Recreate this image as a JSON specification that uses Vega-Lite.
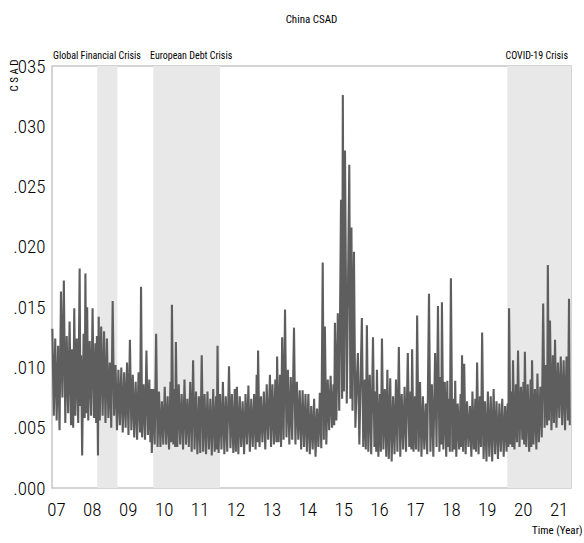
{
  "$schema": "https://vega.github.io/schema/vega-lite/v6.json",
  "width": 519,
  "height": 422,
  "autosize": {"type": "none"},
  "padding": {"left": 52, "top": 66, "right": 13, "bottom": 55},
  "background": "white",
  "title": {"text": "China CSAD", "fontSize": 11, "fontWeight": "normal", "color": "#000000", "anchor": "middle", "baseline": "alphabetic", "offset": 17},
  "resolve": {"axis": {"x": "independent", "y": "independent"}},
  "datasets": {
    "crisis": [
      {"start": 2008.15, "end": 2008.71, "name": "Global Financial Crisis", "label_t": 2006.92, "side": "left"},
      {"start": 2009.71, "end": 2011.57, "name": "European Debt Crisis", "label_t": 2009.62, "side": "left"},
      {"start": 2019.57, "end": 2021.345, "name": "COVID-19 Crisis", "label_t": 2021.26, "side": "right"}
    ],
    "csad": [
      {"t":2006.90,"v":0.0132},{"t":2006.94,"v":0.0060},{"t":2006.98,"v":0.0124},
      {"t":2007.02,"v":0.0056},{"t":2007.06,"v":0.0118},{"t":2007.10,"v":0.0048},{"t":2007.14,"v":0.0163},{"t":2007.18,"v":0.0075},{"t":2007.22,"v":0.0172},{"t":2007.26,"v":0.0054},{"t":2007.30,"v":0.0126},{"t":2007.34,"v":0.0062},{"t":2007.38,"v":0.0138},{"t":2007.42,"v":0.0052},{"t":2007.45,"v":0.0115},{"t":2007.48,"v":0.0050},{"t":2007.51,"v":0.0149},{"t":2007.54,"v":0.0060},{"t":2007.58,"v":0.0124},{"t":2007.62,"v":0.0054},{"t":2007.66,"v":0.0182},{"t":2007.68,"v":0.0068},{"t":2007.70,"v":0.0110},{"t":2007.73,"v":0.0027},{"t":2007.77,"v":0.0128},{"t":2007.80,"v":0.0058},{"t":2007.82,"v":0.0178},{"t":2007.85,"v":0.0062},{"t":2007.87,"v":0.0150},{"t":2007.90,"v":0.0056},{"t":2007.94,"v":0.0122},{"t":2007.98,"v":0.0060},
      {"t":2008.02,"v":0.0149},{"t":2008.06,"v":0.0058},{"t":2008.10,"v":0.0120},{"t":2008.12,"v":0.0054},{"t":2008.14,"v":0.0126},{"t":2008.17,"v":0.0027},{"t":2008.19,"v":0.0142},{"t":2008.22,"v":0.0056},{"t":2008.26,"v":0.0134},{"t":2008.30,"v":0.0060},{"t":2008.34,"v":0.0130},{"t":2008.38,"v":0.0054},{"t":2008.42,"v":0.0124},{"t":2008.46,"v":0.0058},{"t":2008.50,"v":0.0104},{"t":2008.54,"v":0.0050},{"t":2008.58,"v":0.0155},{"t":2008.62,"v":0.0060},{"t":2008.66,"v":0.0102},{"t":2008.70,"v":0.0048},{"t":2008.74,"v":0.0098},{"t":2008.78,"v":0.0052},{"t":2008.82,"v":0.0100},{"t":2008.86,"v":0.0046},{"t":2008.90,"v":0.0096},{"t":2008.94,"v":0.0050},{"t":2008.98,"v":0.0104},
      {"t":2009.02,"v":0.0044},{"t":2009.06,"v":0.0123},{"t":2009.10,"v":0.0048},{"t":2009.14,"v":0.0094},{"t":2009.18,"v":0.0042},{"t":2009.22,"v":0.0088},{"t":2009.26,"v":0.0040},{"t":2009.30,"v":0.0096},{"t":2009.34,"v":0.0046},{"t":2009.37,"v":0.0167},{"t":2009.40,"v":0.0042},{"t":2009.44,"v":0.0086},{"t":2009.48,"v":0.0040},{"t":2009.52,"v":0.0114},{"t":2009.56,"v":0.0044},{"t":2009.60,"v":0.0090},{"t":2009.63,"v":0.0038},{"t":2009.65,"v":0.0082},{"t":2009.67,"v":0.0029},{"t":2009.71,"v":0.0082},{"t":2009.75,"v":0.0036},{"t":2009.79,"v":0.0128},{"t":2009.83,"v":0.0034},{"t":2009.87,"v":0.0080},{"t":2009.91,"v":0.0034},{"t":2009.95,"v":0.0072},{"t":2009.99,"v":0.0036},
      {"t":2010.03,"v":0.0084},{"t":2010.07,"v":0.0036},{"t":2010.11,"v":0.0076},{"t":2010.15,"v":0.0032},{"t":2010.19,"v":0.0088},{"t":2010.21,"v":0.0038},{"t":2010.23,"v":0.0152},{"t":2010.27,"v":0.0036},{"t":2010.30,"v":0.0082},{"t":2010.32,"v":0.0034},{"t":2010.34,"v":0.0121},{"t":2010.38,"v":0.0034},{"t":2010.42,"v":0.0086},{"t":2010.46,"v":0.0036},{"t":2010.50,"v":0.0078},{"t":2010.54,"v":0.0032},{"t":2010.58,"v":0.0090},{"t":2010.62,"v":0.0036},{"t":2010.66,"v":0.0074},{"t":2010.70,"v":0.0034},{"t":2010.74,"v":0.0088},{"t":2010.78,"v":0.0030},{"t":2010.82,"v":0.0106},{"t":2010.86,"v":0.0032},{"t":2010.90,"v":0.0080},{"t":2010.94,"v":0.0028},{"t":2010.98,"v":0.0076},
      {"t":2011.02,"v":0.0029},{"t":2011.06,"v":0.0110},{"t":2011.10,"v":0.0030},{"t":2011.14,"v":0.0078},{"t":2011.18,"v":0.0028},{"t":2011.22,"v":0.0080},{"t":2011.26,"v":0.0032},{"t":2011.30,"v":0.0074},{"t":2011.34,"v":0.0027},{"t":2011.38,"v":0.0082},{"t":2011.42,"v":0.0030},{"t":2011.46,"v":0.0076},{"t":2011.48,"v":0.0032},{"t":2011.50,"v":0.0118},{"t":2011.53,"v":0.0029},{"t":2011.57,"v":0.0078},{"t":2011.61,"v":0.0032},{"t":2011.65,"v":0.0088},{"t":2011.69,"v":0.0028},{"t":2011.73,"v":0.0076},{"t":2011.77,"v":0.0030},{"t":2011.82,"v":0.0101},{"t":2011.86,"v":0.0033},{"t":2011.90,"v":0.0078},{"t":2011.94,"v":0.0029},{"t":2011.98,"v":0.0082},
      {"t":2012.01,"v":0.0030},{"t":2012.04,"v":0.0084},{"t":2012.08,"v":0.0028},{"t":2012.12,"v":0.0076},{"t":2012.16,"v":0.0034},{"t":2012.20,"v":0.0072},{"t":2012.24,"v":0.0028},{"t":2012.28,"v":0.0078},{"t":2012.32,"v":0.0036},{"t":2012.36,"v":0.0085},{"t":2012.40,"v":0.0030},{"t":2012.44,"v":0.0074},{"t":2012.48,"v":0.0034},{"t":2012.52,"v":0.0078},{"t":2012.56,"v":0.0032},{"t":2012.59,"v":0.0094},{"t":2012.61,"v":0.0038},{"t":2012.63,"v":0.0114},{"t":2012.67,"v":0.0034},{"t":2012.71,"v":0.0076},{"t":2012.75,"v":0.0038},{"t":2012.79,"v":0.0080},{"t":2012.83,"v":0.0032},{"t":2012.87,"v":0.0086},{"t":2012.91,"v":0.0040},{"t":2012.96,"v":0.0094},{"t":2012.99,"v":0.0034},
      {"t":2013.03,"v":0.0086},{"t":2013.07,"v":0.0036},{"t":2013.11,"v":0.0090},{"t":2013.14,"v":0.0038},{"t":2013.16,"v":0.0109},{"t":2013.20,"v":0.0038},{"t":2013.24,"v":0.0094},{"t":2013.27,"v":0.0034},{"t":2013.30,"v":0.0125},{"t":2013.34,"v":0.0040},{"t":2013.38,"v":0.0148},{"t":2013.42,"v":0.0042},{"t":2013.46,"v":0.0098},{"t":2013.50,"v":0.0036},{"t":2013.54,"v":0.0092},{"t":2013.58,"v":0.0040},{"t":2013.63,"v":0.0133},{"t":2013.67,"v":0.0036},{"t":2013.71,"v":0.0088},{"t":2013.75,"v":0.0040},{"t":2013.79,"v":0.0081},{"t":2013.83,"v":0.0032},{"t":2013.87,"v":0.0081},{"t":2013.91,"v":0.0034},{"t":2013.95,"v":0.0078},{"t":2013.99,"v":0.0030},
      {"t":2014.03,"v":0.0078},{"t":2014.07,"v":0.0028},{"t":2014.11,"v":0.0068},{"t":2014.15,"v":0.0032},{"t":2014.19,"v":0.0074},{"t":2014.23,"v":0.0026},{"t":2014.27,"v":0.0066},{"t":2014.31,"v":0.0034},{"t":2014.35,"v":0.0079},{"t":2014.39,"v":0.0033},{"t":2014.43,"v":0.0187},{"t":2014.46,"v":0.0040},{"t":2014.49,"v":0.0134},{"t":2014.53,"v":0.0036},{"t":2014.57,"v":0.0090},{"t":2014.61,"v":0.0048},{"t":2014.65,"v":0.0093},{"t":2014.69,"v":0.0050},{"t":2014.73,"v":0.0086},{"t":2014.75,"v":0.0052},{"t":2014.77,"v":0.0137},{"t":2014.81,"v":0.0056},{"t":2014.85,"v":0.0145},{"t":2014.89,"v":0.0064},{"t":2014.94,"v":0.0239},{"t":2014.97,"v":0.0074},{"t":2014.99,"v":0.0326},
      {"t":2015.02,"v":0.0080},{"t":2015.05,"v":0.0280},{"t":2015.10,"v":0.0070},{"t":2015.17,"v":0.0268},{"t":2015.20,"v":0.0074},{"t":2015.23,"v":0.0216},{"t":2015.26,"v":0.0064},{"t":2015.30,"v":0.0196},{"t":2015.34,"v":0.0050},{"t":2015.38,"v":0.0090},{"t":2015.41,"v":0.0112},{"t":2015.45,"v":0.0036},{"t":2015.49,"v":0.0096},{"t":2015.52,"v":0.0141},{"t":2015.56,"v":0.0034},{"t":2015.60,"v":0.0090},{"t":2015.63,"v":0.0032},{"t":2015.66,"v":0.0135},{"t":2015.70,"v":0.0030},{"t":2015.74,"v":0.0094},{"t":2015.78,"v":0.0028},{"t":2015.83,"v":0.0125},{"t":2015.87,"v":0.0034},{"t":2015.90,"v":0.0080},{"t":2015.92,"v":0.0030},{"t":2015.94,"v":0.0098},{"t":2015.98,"v":0.0026},
      {"t":2016.02,"v":0.0078},{"t":2016.05,"v":0.0030},{"t":2016.08,"v":0.0124},{"t":2016.12,"v":0.0032},{"t":2016.16,"v":0.0082},{"t":2016.20,"v":0.0026},{"t":2016.23,"v":0.0098},{"t":2016.27,"v":0.0024},{"t":2016.31,"v":0.0091},{"t":2016.35,"v":0.0022},{"t":2016.39,"v":0.0076},{"t":2016.43,"v":0.0028},{"t":2016.47,"v":0.0090},{"t":2016.51,"v":0.0030},{"t":2016.55,"v":0.0117},{"t":2016.59,"v":0.0026},{"t":2016.63,"v":0.0078},{"t":2016.67,"v":0.0032},{"t":2016.71,"v":0.0084},{"t":2016.75,"v":0.0030},{"t":2016.80,"v":0.0112},{"t":2016.84,"v":0.0034},{"t":2016.88,"v":0.0080},{"t":2016.90,"v":0.0032},{"t":2016.92,"v":0.0115},{"t":2016.96,"v":0.0030},
      {"t":2017.00,"v":0.0076},{"t":2017.03,"v":0.0032},{"t":2017.06,"v":0.0143},{"t":2017.10,"v":0.0030},{"t":2017.14,"v":0.0088},{"t":2017.18,"v":0.0026},{"t":2017.22,"v":0.0076},{"t":2017.26,"v":0.0032},{"t":2017.30,"v":0.0070},{"t":2017.34,"v":0.0028},{"t":2017.39,"v":0.0161},{"t":2017.43,"v":0.0030},{"t":2017.47,"v":0.0086},{"t":2017.51,"v":0.0026},{"t":2017.56,"v":0.0112},{"t":2017.60,"v":0.0034},{"t":2017.64,"v":0.0151},{"t":2017.68,"v":0.0030},{"t":2017.71,"v":0.0092},{"t":2017.73,"v":0.0036},{"t":2017.75,"v":0.0154},{"t":2017.79,"v":0.0032},{"t":2017.83,"v":0.0088},{"t":2017.87,"v":0.0026},{"t":2017.90,"v":0.0089},{"t":2017.92,"v":0.0034},{"t":2017.95,"v":0.0074},{"t":2017.97,"v":0.0030},
      {"t":2018.00,"v":0.0174},{"t":2018.04,"v":0.0030},{"t":2018.08,"v":0.0074},{"t":2018.10,"v":0.0032},{"t":2018.12,"v":0.0089},{"t":2018.15,"v":0.0026},{"t":2018.19,"v":0.0070},{"t":2018.23,"v":0.0032},{"t":2018.27,"v":0.0078},{"t":2018.29,"v":0.0034},{"t":2018.31,"v":0.0110},{"t":2018.34,"v":0.0030},{"t":2018.37,"v":0.0103},{"t":2018.41,"v":0.0028},{"t":2018.45,"v":0.0072},{"t":2018.49,"v":0.0034},{"t":2018.53,"v":0.0068},{"t":2018.57,"v":0.0026},{"t":2018.60,"v":0.0080},{"t":2018.64,"v":0.0032},{"t":2018.68,"v":0.0074},{"t":2018.70,"v":0.0030},{"t":2018.73,"v":0.0104},{"t":2018.77,"v":0.0028},{"t":2018.81,"v":0.0076},{"t":2018.84,"v":0.0034},{"t":2018.87,"v":0.0129},{"t":2018.91,"v":0.0024},{"t":2018.95,"v":0.0072},{"t":2018.99,"v":0.0022},
      {"t":2019.03,"v":0.0080},{"t":2019.07,"v":0.0026},{"t":2019.11,"v":0.0076},{"t":2019.15,"v":0.0022},{"t":2019.19,"v":0.0082},{"t":2019.23,"v":0.0028},{"t":2019.27,"v":0.0072},{"t":2019.31,"v":0.0024},{"t":2019.35,"v":0.0070},{"t":2019.39,"v":0.0030},{"t":2019.43,"v":0.0074},{"t":2019.47,"v":0.0026},{"t":2019.51,"v":0.0068},{"t":2019.55,"v":0.0030},{"t":2019.58,"v":0.0070},{"t":2019.60,"v":0.0034},{"t":2019.62,"v":0.0149},{"t":2019.66,"v":0.0036},{"t":2019.69,"v":0.0080},{"t":2019.71,"v":0.0034},{"t":2019.73,"v":0.0106},{"t":2019.77,"v":0.0032},{"t":2019.81,"v":0.0086},{"t":2019.84,"v":0.0038},{"t":2019.87,"v":0.0114},{"t":2019.91,"v":0.0034},{"t":2019.95,"v":0.0084},{"t":2019.99,"v":0.0040},
      {"t":2020.02,"v":0.0088},{"t":2020.04,"v":0.0036},{"t":2020.06,"v":0.0113},{"t":2020.10,"v":0.0034},{"t":2020.14,"v":0.0086},{"t":2020.18,"v":0.0030},{"t":2020.22,"v":0.0090},{"t":2020.24,"v":0.0034},{"t":2020.26,"v":0.0106},{"t":2020.30,"v":0.0036},{"t":2020.34,"v":0.0082},{"t":2020.38,"v":0.0032},{"t":2020.41,"v":0.0095},{"t":2020.45,"v":0.0038},{"t":2020.49,"v":0.0084},{"t":2020.53,"v":0.0042},{"t":2020.57,"v":0.0153},{"t":2020.61,"v":0.0050},{"t":2020.65,"v":0.0102},{"t":2020.68,"v":0.0052},{"t":2020.70,"v":0.0185},{"t":2020.73,"v":0.0056},{"t":2020.76,"v":0.0139},{"t":2020.80,"v":0.0048},{"t":2020.84,"v":0.0110},{"t":2020.87,"v":0.0054},{"t":2020.90,"v":0.0123},{"t":2020.94,"v":0.0050},{"t":2020.98,"v":0.0104},
      {"t":2021.02,"v":0.0058},{"t":2021.06,"v":0.0109},{"t":2021.10,"v":0.0052},{"t":2021.14,"v":0.0106},{"t":2021.18,"v":0.0048},{"t":2021.22,"v":0.0109},{"t":2021.26,"v":0.0056},{"t":2021.29,"v":0.0157},{"t":2021.31,"v":0.0052}
    ]
  },
  "layer": [
    {
      "data": {"name": "crisis"},
      "mark": {"type": "rect", "color": "#e8e8e8"},
      "encoding": {
        "x": {"field": "start", "type": "quantitative", "scale": {"domain": [2006.89, 2021.345], "nice": false, "zero": false}, "axis": null},
        "x2": {"field": "end"}
      }
    },
    {
      "data": {"name": "csad"},
      "mark": {"type": "line", "color": "#5e5e5e", "strokeWidth": 2.1},
      "encoding": {
        "x": {
          "field": "t", "type": "quantitative",
          "scale": {"domain": [2006.89, 2021.345], "nice": false, "zero": false},
          "axis": {
            "values": [2007, 2008, 2009, 2010, 2011, 2012, 2013, 2014, 2015, 2016, 2017, 2018, 2019, 2020, 2021],
            "format": "d",
            "labelExpr": "slice(datum.label, 2)",
            "labelFontSize": 19, "labelFontWeight": 300, "labelPadding": 12, "labelFlush": false,
            "title": "Time (Year)", "titleX": 530, "titleY": 45, "titleAlign": "right", "titleBaseline": "alphabetic", "titleFontSize": 11
          }
        },
        "y": {
          "field": "v", "type": "quantitative",
          "scale": {"domain": [0, 0.035], "nice": false},
          "axis": {
            "values": [0, 0.005, 0.01, 0.015, 0.02, 0.025, 0.03, 0.035],
            "format": ".3f",
            "labelExpr": "slice(datum.label, 1)",
            "labelFontSize": 19, "labelFontWeight": 300, "labelPadding": 7,
            "title": "C S A D", "titleX": -38, "titleY": 9, "titleAngle": 270, "titleAlign": "center", "titleBaseline": "middle", "titleFontSize": 11
          }
        }
      }
    },
    {
      "data": {"name": "crisis"},
      "transform": [{"filter": "datum.side == 'left'"}],
      "mark": {"type": "text", "align": "left", "baseline": "alphabetic", "fontSize": 10, "color": "#000000"},
      "encoding": {
        "x": {"field": "label_t", "type": "quantitative", "scale": {"domain": [2006.89, 2021.345], "nice": false, "zero": false}, "axis": null},
        "y": {"datum": 0.0356, "type": "quantitative", "scale": {"domain": [0, 0.035], "nice": false}, "axis": null},
        "text": {"field": "name"}
      }
    },
    {
      "data": {"name": "crisis"},
      "transform": [{"filter": "datum.side == 'right'"}],
      "mark": {"type": "text", "align": "right", "baseline": "alphabetic", "fontSize": 10, "color": "#000000"},
      "encoding": {
        "x": {"field": "label_t", "type": "quantitative", "scale": {"domain": [2006.89, 2021.345], "nice": false, "zero": false}, "axis": null},
        "y": {"datum": 0.0356, "type": "quantitative", "scale": {"domain": [0, 0.035], "nice": false}, "axis": null},
        "text": {"field": "name"}
      }
    }
  ],
  "config": {
    "view": {"stroke": "#c6c6c6", "strokeWidth": 1.5},
    "font": "Roboto Condensed, DejaVu Sans Condensed, Liberation Sans, sans-serif",
    "text": {"font": "Roboto Condensed, DejaVu Sans Condensed, Liberation Sans, sans-serif"},
    "title": {"font": "Roboto Condensed, DejaVu Sans Condensed, Liberation Sans, sans-serif"},
    "axis": {
      "domain": false, "ticks": false, "grid": false,
      "labelFont": "Roboto Condensed, DejaVu Sans Condensed, Liberation Sans, sans-serif",
      "titleFont": "Roboto Condensed, DejaVu Sans Condensed, Liberation Sans, sans-serif",
      "labelColor": "#000000", "titleColor": "#000000", "titleFontWeight": "normal"
    }
  }
}
